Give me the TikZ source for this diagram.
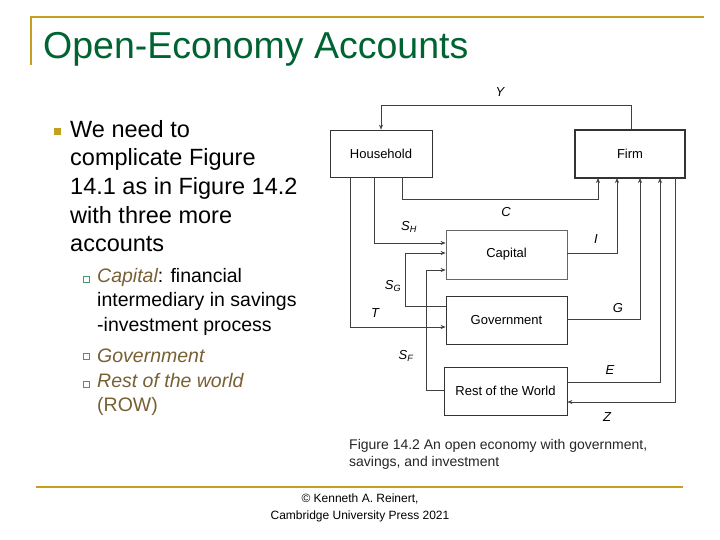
\documentclass[tikz,border=0pt]{standalone}
\usepackage{fontspec}
\setmainfont{Liberation Sans}
\usetikzlibrary{arrows.meta}
\definecolor{gold}{RGB}{196,160,32}
\definecolor{tgreen}{RGB}{0,100,50}
\definecolor{brn}{RGB}{120,96,52}
\begin{document}
\begin{tikzpicture}[x=1pt,y=-1pt,
  acct/.style={draw=black!80,line width=0.8pt,inner sep=0pt,font=\fontsize{13}{15}\selectfont},
  flow/.style={draw=black!75,line width=0.6pt,-{Stealth[length=5pt,width=4pt]}},
  lab/.style={font=\itshape\fontsize{13}{15}\selectfont,inner sep=0pt}]
\useasboundingbox (0,0) rectangle (720,540);
\fill[white] (0,0) rectangle (720,540);
\draw[gold,line width=2pt] (31,65) -- (31,17) -- (704,17);
\draw[gold,line width=2pt] (36,487) -- (683,487);
\node[anchor=west,text=tgreen,font=\fontsize{37.5}{40}\selectfont,inner sep=0pt] (title) at (43,49) {Open-Economy Accounts};
% bullets
\fill[gold] (54,128) rectangle (61,135);
\node[anchor=north west,inner sep=0pt,align=left,font=\fontsize{23.5}{28.6}\selectfont] (b1) at (70,120)
 {We need to\\complicate Figure\\14.1 as in Figure 14.2\\with three more\\accounts};
\foreach \yy in {279,356,384}{\draw[tgreen!70,line width=0.5pt] (83,\yy-3) rectangle (89,\yy+3);}
\node[anchor=north west,inner sep=0pt,align=left,font=\fontsize{19.5}{24.5}\selectfont] (b2) at (97,268)
 {\textcolor{brn}{\itshape Capital}: financial\\intermediary in savings\\-investment process};
\node[anchor=west,inner sep=0pt,text=brn,font=\itshape\fontsize{19.5}{22}\selectfont] (b3) at (97,356) {Government};
\node[anchor=north west,inner sep=0pt,align=left,text=brn,font=\fontsize{19.5}{24.5}\selectfont] (b4) at (97,373) {\itshape Rest of the world\\(ROW)};
% boxes
\node[acct,minimum width=102pt,minimum height=47pt] (hh) at (381,153.5) {Household};
\node[acct,line width=1.2pt,minimum width=110pt,minimum height=48pt] (firm) at (630,154) {Firm};
\node[acct,draw=black!60,minimum width=121pt,minimum height=49pt] (cap) at (506.5,254.5) {Capital};
\node[acct,minimum width=121pt,minimum height=48pt] (gov) at (506.5,320) {Government};
\node[acct,minimum width=123pt,minimum height=48pt] (row) at (505.5,391) {Rest of the World};
% flows
\draw[flow] (firm.north -| 631,0) -- (631,105) -- (381,105) -- (hh.north);
\draw[flow] (402,177) -- (402,199) -- (598,199) -- (598,178);
\draw[flow] (374,177) -- (374,243) -- (cap.west |- 0,243);
\draw[flow] (350,177) -- (350,327) -- (gov.west |- 0,327);
\draw[flow] (gov.west |- 0,306) -- (405,306) -- (405,253) -- (cap.west |- 0,253);
\draw[flow] (row.west |- 0,390) -- (426,390) -- (426,270) -- (cap.west |- 0,270);
\draw[flow] (cap.east |- 0,253) -- (617,253) -- (617,178);
\draw[flow] (gov.east |- 0,319) -- (640,319) -- (640,178);
\draw[flow] (row.east |- 0,382) -- (660,382) -- (660,178);
\draw[flow] (675,178) -- (675,402) -- (row.east |- 0,402);
% labels
\node[lab] (ly) at (500,92) {Y};
\node[lab] (lc) at (506,212) {C};
\node[lab] (lsh) at (409,227) {S\textsubscript{H}};
\node[lab] (li) at (596,239) {I};
\node[lab] (lsg) at (393,286) {S\textsubscript{G}};
\node[lab] (lt) at (375,313) {T};
\node[lab] (lg) at (618,308) {G};
\node[lab] (lsf) at (406,356) {S\textsubscript{F}};
\node[lab] (le) at (610,370) {E};
\node[lab] (lz) at (607,417) {Z};
\node[anchor=north west,inner sep=0pt,align=left,text=black!85,font=\fontsize{14}{17}\selectfont] (cap2) at (349,439)
 {Figure 14.2 An open economy with government,\\savings, and investment};
\node[inner sep=0pt,align=center,font=\fontsize{12}{17}\selectfont] (copy) at (360,508)
 {© Kenneth A. Reinert,\\Cambridge University Press 2021};
\end{tikzpicture}
\end{document}
